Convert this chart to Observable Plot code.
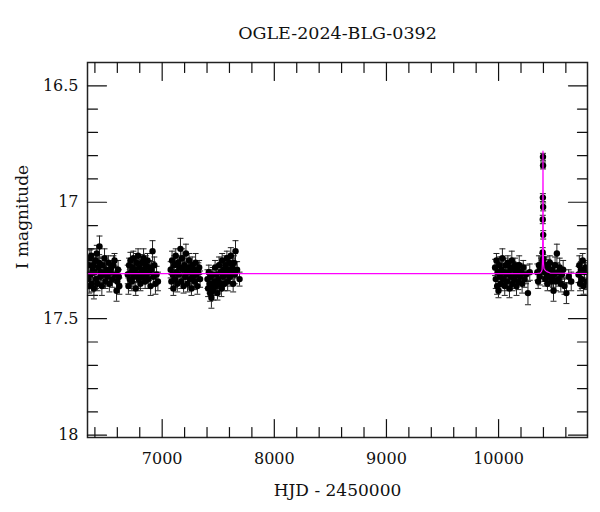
<!DOCTYPE html>
<html>
<head>
<meta charset="utf-8">
<script src="https://cdn.jsdelivr.net/npm/d3@7"></script>
<script src="https://cdn.jsdelivr.net/npm/@observablehq/plot@0.6"></script>
<style>
  html, body { margin: 0; padding: 0; background: #fff; }
</style>
</head>
<body>
<div id="chart"></div>
<script>
const title = "OGLE-2024-BLG-0392";
const xLabel = "HJD - 2450000";
const yLabel = "I magnitude";

const xMajor = [7000, 8000, 9000, 10000];
const xMinor = [6400, 6600, 6800, 7200, 7400, 7600, 7800, 8200, 8400, 8600, 8800, 9200, 9400, 9600, 9800, 10200, 10400, 10600];
const yMajor = [16.5, 17, 17.5, 18];
const yMinor = [16.6, 16.7, 16.8, 16.9, 17.1, 17.2, 17.3, 17.4, 17.6, 17.7, 17.8, 17.9];

// Season 1
const t1 = [6337,6343,6349,6355,6361,6367,6373,6379,6385,6391,6398,6404,6410,6417,6424,6431,6438,6441,6448,6455,6462,6470,6478,6486,6494,6502,6511,6520,6529,6538,6547,6556,6565,6575,6584,6593,6600,6607,6613,6618];
const m1 = [17.33,17.27,17.36,17.24,17.31,17.23,17.35,17.29,17.27,17.37,17.30,17.25,17.33,17.22,17.35,17.28,17.26,17.19,17.32,17.30,17.36,17.27,17.31,17.24,17.34,17.29,17.32,17.26,17.35,17.30,17.28,17.33,17.27,17.25,17.31,17.38,17.34,17.29,17.32,17.36];
const e1 = [0.035,0.04,0.03,0.035,0.04,0.03,0.035,0.04,0.03,0.045,0.035,0.03,0.04,0.035,0.03,0.04,0.035,0.045,0.03,0.035,0.04,0.03,0.035,0.04,0.03,0.035,0.04,0.03,0.035,0.04,0.03,0.035,0.04,0.03,0.035,0.045,0.035,0.04,0.03,0.035];
// Season 2
const t2 = [6693,6699,6705,6711,6717,6723,6729,6736,6743,6750,6757,6764,6771,6778,6785,6792,6799,6806,6813,6820,6827,6834,6841,6848,6855,6862,6869,6876,6883,6890,6897,6904,6914,6921,6930,6940,6950,6962];
const m2 = [17.31,17.36,17.27,17.33,17.25,17.30,17.34,17.28,17.24,17.32,17.29,17.37,17.26,17.31,17.23,17.33,17.28,17.35,17.30,17.26,17.32,17.24,17.29,17.34,17.27,17.31,17.25,17.33,17.30,17.28,17.36,17.29,17.21,17.32,17.27,17.35,17.31,17.34];
const e2 = [0.04,0.035,0.03,0.04,0.035,0.03,0.04,0.035,0.03,0.04,0.035,0.03,0.04,0.035,0.03,0.04,0.035,0.03,0.04,0.035,0.03,0.04,0.035,0.03,0.04,0.035,0.03,0.04,0.035,0.03,0.04,0.035,0.045,0.04,0.035,0.045,0.035,0.04];
// Season 3
const t3 = [7076,7082,7088,7094,7100,7107,7114,7121,7128,7135,7142,7149,7156,7163,7170,7177,7184,7191,7198,7205,7212,7219,7226,7233,7240,7247,7254,7261,7268,7275,7282,7290,7298,7306,7314,7322,7330,7338];
const m3 = [17.29,17.34,17.25,17.31,17.37,17.27,17.33,17.23,17.30,17.35,17.26,17.31,17.28,17.20,17.34,17.24,17.29,17.36,17.27,17.32,17.22,17.30,17.35,17.28,17.25,17.33,17.30,17.37,17.27,17.32,17.29,17.34,17.26,17.31,17.36,17.30,17.28,17.33];
const e3 = [0.035,0.03,0.04,0.035,0.03,0.04,0.035,0.03,0.04,0.035,0.03,0.04,0.035,0.045,0.03,0.04,0.035,0.03,0.04,0.035,0.04,0.03,0.035,0.04,0.03,0.035,0.04,0.03,0.035,0.04,0.03,0.035,0.04,0.03,0.035,0.04,0.03,0.035];
// Season 4
const t4 = [7404,7410,7416,7422,7428,7434,7439,7445,7451,7458,7465,7472,7479,7486,7493,7500,7507,7514,7521,7528,7535,7542,7549,7556,7563,7570,7577,7584,7591,7598,7605,7612,7619,7626,7633,7640,7647,7654,7668,7690];
const m4 = [17.33,17.37,17.30,17.35,17.39,17.32,17.41,17.36,17.31,17.38,17.34,17.28,17.36,17.31,17.39,17.33,17.27,17.35,17.30,17.37,17.25,17.32,17.29,17.35,17.27,17.31,17.24,17.34,17.29,17.26,17.32,17.23,17.30,17.28,17.35,17.26,17.31,17.21,17.29,17.33];
const e4 = [0.04,0.035,0.03,0.04,0.035,0.03,0.045,0.035,0.03,0.04,0.035,0.03,0.04,0.035,0.03,0.04,0.035,0.03,0.04,0.035,0.03,0.04,0.035,0.03,0.04,0.035,0.03,0.04,0.035,0.03,0.04,0.035,0.03,0.04,0.035,0.03,0.04,0.045,0.035,0.03];
// Season 5
const t5 = [9969,9975,9981,9987,9993,9999,10006,10013,10020,10027,10034,10041,10048,10055,10062,10069,10076,10083,10090,10097,10104,10111,10118,10125,10132,10139,10146,10153,10160,10168,10176,10184,10192,10200,10210,10220,10232,10245,10262,10278];
const m5 = [17.28,17.33,17.25,17.36,17.30,17.38,17.27,17.32,17.35,17.29,17.24,17.33,17.30,17.36,17.27,17.31,17.34,17.26,17.30,17.37,17.28,17.32,17.25,17.35,17.29,17.33,17.27,17.31,17.36,17.29,17.34,17.27,17.32,17.30,17.35,17.28,17.33,17.31,17.39,17.30];
const e5 = [0.035,0.04,0.03,0.035,0.04,0.03,0.035,0.04,0.03,0.035,0.04,0.03,0.035,0.04,0.03,0.035,0.04,0.03,0.035,0.04,0.03,0.035,0.04,0.03,0.035,0.04,0.03,0.035,0.04,0.03,0.035,0.04,0.03,0.035,0.04,0.03,0.035,0.04,0.05,0.035];
// Season 6 (event season, baseline part)
const t6 = [10346,10353,10360,10367,10374,10380,10386,10390,10405,10410,10416,10422,10429,10436,10443,10450,10457,10464,10471,10478,10485,10490,10497,10504,10511,10520,10528,10536,10545,10555,10565,10576,10588,10605,10625,10648];
const m6 = [17.30,17.34,17.27,17.32,17.29,17.28,17.27,17.25,17.27,17.30,17.33,17.27,17.31,17.35,17.28,17.32,17.26,17.30,17.34,17.29,17.33,17.38,17.31,17.27,17.34,17.22,17.30,17.33,17.28,17.35,17.31,17.29,17.36,17.39,17.32,17.34];
const e6 = [0.035,0.03,0.04,0.035,0.03,0.04,0.035,0.03,0.035,0.04,0.03,0.035,0.04,0.03,0.035,0.04,0.03,0.035,0.04,0.03,0.035,0.045,0.03,0.035,0.04,0.04,0.035,0.03,0.04,0.035,0.03,0.04,0.035,0.045,0.03,0.04];
// Event peak
const tp = [10393.2,10394.2,10395.0,10396.0,10396.6,10397.3,10398.0,10399.0];
const mp = [17.215,17.074,16.98,16.805,16.842,17.02,17.14,17.245];
const ep = [0.02,0.018,0.017,0.015,0.015,0.017,0.018,0.02];
// Season 7
const t7 = [10713,10720,10727,10734,10742,10750,10758,10767,10776,10786];
const m7 = [17.31,17.27,17.35,17.29,17.33,17.25,17.36,17.30,17.28,17.34];
const e7 = [0.035,0.04,0.03,0.035,0.04,0.03,0.035,0.04,0.03,0.035];

// Model light curve
const modelT = [6334,10340,10370,10382,10388,10391,10392.5,10393.5,10394.5,10395.3,10396,10396.7,10397.5,10398.3,10399.3,10401,10405,10415,10430,10460,10793];
const modelM = [17.306,17.306,17.304,17.298,17.29,17.26,17.22,17.16,17.05,16.9,16.78,16.87,17.02,17.14,17.22,17.265,17.285,17.292,17.298,17.304,17.306];

const seasons = [[t1,m1,e1],[t2,m2,e2],[t3,m3,e3],[t4,m4,e4],[t5,m5,e5],[t6,m6,e6],[tp,mp,ep],[t7,m7,e7]];
const obs = seasons.flatMap(([t, m, e]) => t.map((d, i) => ({t: d, m: m[i], e: e[i]})));
const model = modelT.map((d, i) => ({t: d, m: modelM[i]}));

const capSymbol = {draw(ctx, size) { const r = Math.sqrt(size / Math.PI); ctx.moveTo(-r, 0); ctx.lineTo(r, 0); }};
const tickShape = {draw(ctx, l) { ctx.moveTo(0, 0); ctx.lineTo(0, -l); }};

const font = "DejaVu Serif";
const ink = "#111";

const chart = Plot.plot({
  width: 600,
  height: 512,
  marginTop: 62,
  marginBottom: 75,
  marginLeft: 87,
  marginRight: 13,
  style: {fontFamily: font, fontSize: "16px", background: "#fff", color: ink},
  x: {domain: [6334, 10793], axis: null},
  y: {domain: [16.4, 18.01], reverse: true, axis: null},
  marks: [
    // error bars
    Plot.ruleX(obs, {x: "t", y1: d => d.m - d.e, y2: d => d.m + d.e, stroke: "#222", strokeWidth: 1, clip: true}),
    Plot.dot(obs, {x: "t", y: d => d.m - d.e, symbol: capSymbol, r: 3, stroke: "#222", strokeWidth: 1, clip: true}),
    Plot.dot(obs, {x: "t", y: d => d.m + d.e, symbol: capSymbol, r: 3, stroke: "#222", strokeWidth: 1, clip: true}),
    // points
    Plot.dot(obs, {x: "t", y: "m", r: 3.2, fill: "#000", stroke: null, clip: true}),
    // model
    Plot.line(model, {x: "t", y: "m", stroke: "#ff00ff", strokeWidth: 1.2, curve: "linear", clip: true}),
    // frame
    Plot.frame({stroke: "#222", strokeWidth: 1.5}),
    // ticks: bottom & top
    Plot.vector(xMajor, {x: d => d, frameAnchor: "bottom", length: 18, rotate: 0, anchor: "start", shape: tickShape, stroke: ink, strokeWidth: 1.2}),
    Plot.vector(xMinor, {x: d => d, frameAnchor: "bottom", length: 10, rotate: 0, anchor: "start", shape: tickShape, stroke: ink, strokeWidth: 1.2}),
    Plot.vector(xMajor, {x: d => d, frameAnchor: "top", length: 18, rotate: 180, anchor: "start", shape: tickShape, stroke: ink, strokeWidth: 1.2}),
    Plot.vector(xMinor, {x: d => d, frameAnchor: "top", length: 10, rotate: 180, anchor: "start", shape: tickShape, stroke: ink, strokeWidth: 1.2}),
    // ticks: left & right
    Plot.vector(yMajor, {y: d => d, frameAnchor: "left", length: 19, rotate: 90, anchor: "start", shape: tickShape, stroke: ink, strokeWidth: 1.2}),
    Plot.vector(yMinor, {y: d => d, frameAnchor: "left", length: 10, rotate: 90, anchor: "start", shape: tickShape, stroke: ink, strokeWidth: 1.2}),
    Plot.vector(yMajor, {y: d => d, frameAnchor: "right", length: 19, rotate: -90, anchor: "start", shape: tickShape, stroke: ink, strokeWidth: 1.2}),
    Plot.vector(yMinor, {y: d => d, frameAnchor: "right", length: 10, rotate: -90, anchor: "start", shape: tickShape, stroke: ink, strokeWidth: 1.2}),
    // tick labels
    Plot.text(xMajor, {x: d => d, frameAnchor: "bottom", dy: 21, text: d => String(d), fontSize: 16, fill: ink, textAnchor: "middle", lineAnchor: "middle"}),
    Plot.text(yMajor, {y: d => d, frameAnchor: "left", dx: -9, text: d => String(d), fontSize: 16, fill: ink, textAnchor: "end", lineAnchor: "middle"}),
    // axis titles and title
    Plot.text([xLabel], {frameAnchor: "bottom", dy: 53, text: d => d, fontSize: 17, fill: ink, textAnchor: "middle", lineAnchor: "middle"}),
    Plot.text([yLabel], {frameAnchor: "left", dx: -65, dy: -33, rotate: -90, text: d => d, fontSize: 17, fill: ink, textAnchor: "middle", lineAnchor: "middle"}),
    Plot.text([title], {frameAnchor: "top", dy: -29, text: d => d, fontSize: 17.5, fill: ink, textAnchor: "middle", lineAnchor: "middle"})
  ]
});
document.getElementById("chart").appendChild(chart);
</script>
</body>
</html>
